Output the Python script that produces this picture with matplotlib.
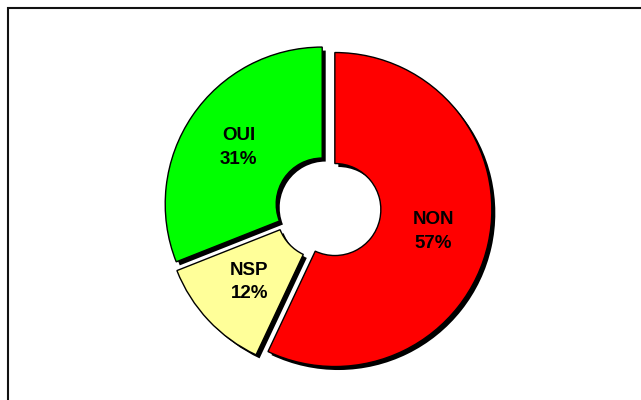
import numpy as np
import matplotlib.pyplot as plt
from matplotlib.patches import Rectangle

plt.rcParams['font.family'] = ['Liberation Sans', 'DejaVu Sans']

labels = ['NON', 'NSP', 'OUI']
values = [57, 12, 31]
colors = ['#ff0000', '#ffff99', '#00ff00']

# geometry in pixel units
cx, cy = 328, 400 - 208
R, r = 157, 46
gap = 7
shadow = (3.5, -3.5)

fig = plt.figure(figsize=(6.41, 4.0), dpi=100)
ax = fig.add_axes([0, 0, 1, 1])

pie_kw = dict(explode=[gap] * len(values), radius=R, startangle=90,
              counterclock=False, frame=True)

# drop shadow first, then the rings on top
ax.pie(values, center=(cx + shadow[0], cy + shadow[1]), colors=['black'] * 3,
       wedgeprops=dict(width=R - r, linewidth=0), **pie_kw)
wedges, _ = ax.pie(values, center=(cx, cy), colors=colors,
                   wedgeprops=dict(width=R - r, edgecolor='black', linewidth=1),
                   **pie_kw)

for w, name, v in zip(wedges, labels, values):
    ang = np.deg2rad((w.theta1 + w.theta2) / 2)
    d = 101
    x = w.center[0] + d * np.cos(ang)
    y = w.center[1] + d * np.sin(ang)
    ax.text(x, y, f"{name}\n{v}%", ha='center', va='center',
            fontsize=13.5, fontweight='bold', linespacing=1.5)

ax.add_patch(Rectangle((8, -20), 700, 412, fill=False, edgecolor='#111111',
                       linewidth=1.5))

ax.set_xlim(0, 641)
ax.set_ylim(0, 400)
ax.set_aspect('equal')
ax.axis('off')

fig.savefig('out.png', dpi=100)
